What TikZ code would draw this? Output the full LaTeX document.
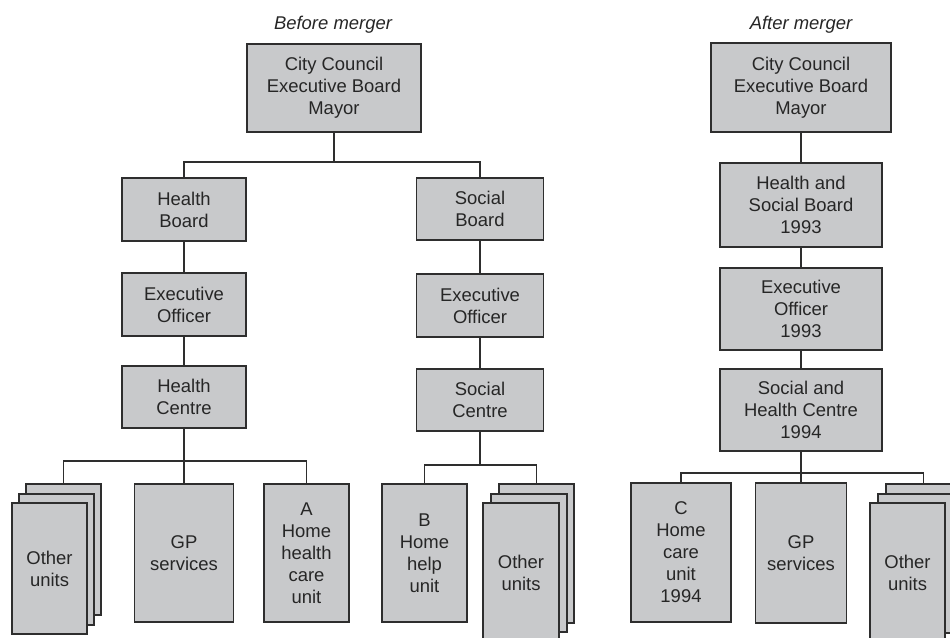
\documentclass[tikz,border=0pt]{standalone}
\usepackage{fontspec}
\setmainfont{Liberation Sans}
\usetikzlibrary{positioning, calc}
\definecolor{boxgray}{HTML}{C8C9CB}
\definecolor{linegray}{HTML}{2E2E2E}
\definecolor{textgray}{HTML}{262626}

\begin{document}
\begin{tikzpicture}[x=0.02cm, y=-0.02cm,
  box/.style 2 args={fill=boxgray, draw=linegray, line width=1.1pt, text=textgray, align=center, inner sep=0pt, minimum width=#1*0.02cm, minimum height=#2*0.02cm, font=\fontsize{10.5}{12.5}\selectfont},
  title/.style={text=textgray, font=\fontsize{10.5}{12.5}\selectfont\itshape},
  link/.style={draw=linegray, line width=0.9pt}]
  \path [use as bounding box, clip] (0,0) rectangle (950,637);

  \node (t1) [title] at (333,25) {Before merger};
  \node (cc1) [box={174}{88}] at (334,88) {City Council\\Executive Board\\Mayor};
  \node (hb) [box={124}{63}] at (184,209.5) {Health\\Board};
  \node (eo1) [box={124}{63}] at (184,304.5) {Executive\\Officer};
  \node (hc) [box={124}{62}] at (184,397) {Health\\Centre};
  \node (sb) [box={127}{62}] at (480,209) {Social\\Board};
  \node (eo2) [box={127}{63}] at (480,305.5) {Executive\\Officer};
  \node (sc) [box={127}{62}] at (480,400) {Social\\Centre};

  \node (ou1c) [box={75}{131}] at (63.5,549.5) {};
  \node (ou1b) [box={75}{131}] at (56.5,559.5) {};
  \node (ou1a) [box={75}{131}] at (49.5,568.5) {Other\\units};
  \node (gp1) [box={99}{138}] at (184,553) {GP\\services};
  \node (hu) [box={85}{138}] at (306.5,553) {A\\Home\\health\\care\\unit};
  \node (bu) [box={85}{138}] at (424.5,553) {B\\Home\\help\\unit};
  \node (ou2c) [box={75}{139}] at (536.5,553.5) {};
  \node (ou2b) [box={76}{138}] at (529,563) {};
  \node (ou2a) [box={76}{139}] at (521,572.5) {Other\\units};

  \node (t2) [title] at (801,25) {After merger};
  \node (cc2) [box={180}{89}] at (801,87.5) {City Council\\Executive Board\\Mayor};
  \node (hsb) [box={162}{84}] at (801,205) {Health and\\Social Board\\1993};
  \node (eo3) [box={162}{82}] at (801,309) {Executive\\Officer\\1993};
  \node (shc) [box={162}{82}] at (801,410) {Social and\\Health Centre\\1994};
  \node (cu) [box={100}{139}] at (681,552.5) {C\\Home\\care\\unit\\1994};
  \node (gp2) [box={91}{140}] at (801,553) {GP\\services};
  \node (ou3c) [box={75}{139}] at (923.5,553.5) {};
  \node (ou3b) [box={75}{139}] at (915.5,563.5) {};
  \node (ou3a) [box={75}{139}] at (907.5,572.5) {Other\\units};

  \coordinate (j1) at (334,162);
  \coordinate (j2) at (184,461);
  \coordinate (j3) at (480,465);
  \coordinate (j4) at (801,473);

  \draw [link] (cc1) -- (j1);
  \draw [link] (hb.north) |- (j1) -| (sb.north);
  \draw [link] (hb) -- (eo1) -- (hc);
  \draw [link] (sb) -- (eo2) -- (sc);
  \draw [link] (hc) -- (j2) -- (gp1);
  \draw [link] (ou1c.north) |- (j2) -| (hu.north);
  \draw [link] (sc) -- (j3);
  \draw [link] (bu.north) |- (j3) -| (ou2c.north);
  \draw [link] (cc2) -- (hsb) -- (eo3) -- (shc);
  \draw [link] (shc) -- (j4) -- (gp2);
  \draw [link] (cu.north) |- (j4) -| (ou3c.north);
\end{tikzpicture}
\end{document}
